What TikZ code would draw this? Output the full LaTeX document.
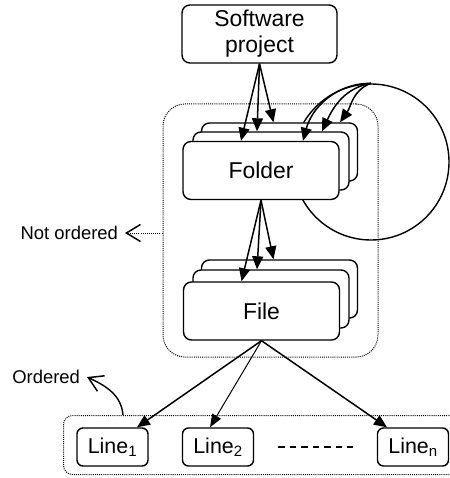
\documentclass[tikz,border=0pt]{standalone}
\usepackage{fontspec}
\setmainfont{Liberation Sans}
\usetikzlibrary{arrows.meta}

\begin{document}
\begin{tikzpicture}[x=1bp,y=1bp,
  box/.style={draw, line width=1.4bp, rounded corners=8bp, fill=white,
    minimum width=156bp, minimum height=58bp, inner sep=0pt,
    font=\fontsize{23}{26}\selectfont},
  linebox/.style={draw, line width=1.4bp, rounded corners=6bp, fill=white,
    minimum width=71bp, minimum height=38bp, inner sep=0pt,
    font=\fontsize{21.5}{24}\selectfont},
  group/.style={draw, line width=1bp, dash pattern=on 1bp off 1.1bp,
    inner sep=0pt},
  link/.style={line width=1.5bp, -{Triangle[length=13bp,width=11bp]}},
  thinlink/.style={line width=1bp, -{Triangle[length=13bp,width=10bp]}},
  tag/.style={inner sep=0pt, outer xsep=7bp, font=\fontsize{18.5}{21}\selectfont},
  barb/.style={-{Straight Barb[length=14bp,width=17bp,line width=1.5bp]}}
]
\useasboundingbox (0,0) rectangle (450,-478);

% containers
\node[group, rounded corners=22bp, minimum width=215bp, minimum height=253bp]
  (tree) at (270.5,-230.5) {};
\node[group, rounded corners=9bp, minimum width=420bp, minimum height=59bp,
  anchor=north west] (lines) at (63,-415) {};

% self loop of the folder level
\node[circle, draw, line width=1.4bp, minimum size=156bp, inner sep=0pt]
  (loop) at (371,-162) {};

% top node
\node[box, minimum width=155bp, align=center] (sw) at (259.5,-34)
  {Software\\project};

% folder stack
\node[box] (fold3) at (279.5,-152) {};
\node[box] (fold2) at (271,-161) {};
\node[box] (fold1) at (261,-170.5) {Folder};

% file stack
\node[box] (file3) at (279.5,-289) {};
\node[box] (file2) at (271,-299) {};
\node[box] (file1) at (261.5,-311) {File};

% lines
\node[linebox] (l1) at (112.5,-447) {Line\textsubscript{1}};
\node[linebox] (l2) at (218,-447) {Line\textsubscript{2}};
\node[linebox] (ln) at (413,-447) {Line\textsubscript{n}};
\draw[line width=1.2bp, dash pattern=on 6.5bp off 5bp,
  shorten <=24bp, shorten >=24bp] (l2.east) -- (ln.west);

% software project -> folders
\draw[link] (sw.south) -- ([xshift=-20bp]fold1.north);
\draw[link] (sw.south) -- ([xshift=-14bp]fold2.north);
\draw[link] (sw.south) -- ([xshift=-6bp]fold3.north);

% folders -> folders
\draw[link] (loop.north) to[out=180,in=75] ([xshift=42bp]fold1.north);
\draw[link] (loop.north) to[out=190,in=65] ([xshift=51bp]fold2.north);
\draw[link] (loop.north) to[out=200,in=55] ([xshift=60.5bp]fold3.north);

% folders -> files
\draw[link] (fold1.south) -- ([xshift=-20bp]file1.north);
\draw[link] (fold1.south) -- ([xshift=-14bp]file2.north);
\draw[link] (fold1.south) -- ([xshift=-6bp]file3.north);

% file -> lines
\draw[link] (file1.south) -- ([xshift=24.5bp]l1.north);
\draw[thinlink] (file1.south) -- ([xshift=-8bp]l2.north);
\draw[link] (file1.south) -- ([xshift=-26bp]ln.north);

% annotations
\node[tag, anchor=east] (notord) at (125,-233) {Not ordered};
\draw[group, barb] (tree.west |- notord.east) -- (notord.east);

\node[tag, anchor=east] (ord) at (87,-377) {Ordered};
\draw[line width=1.4bp, barb] ([xshift=60bp]lines.north west)
  to[out=95,in=-25] (ord.east);
\end{tikzpicture}
\end{document}
